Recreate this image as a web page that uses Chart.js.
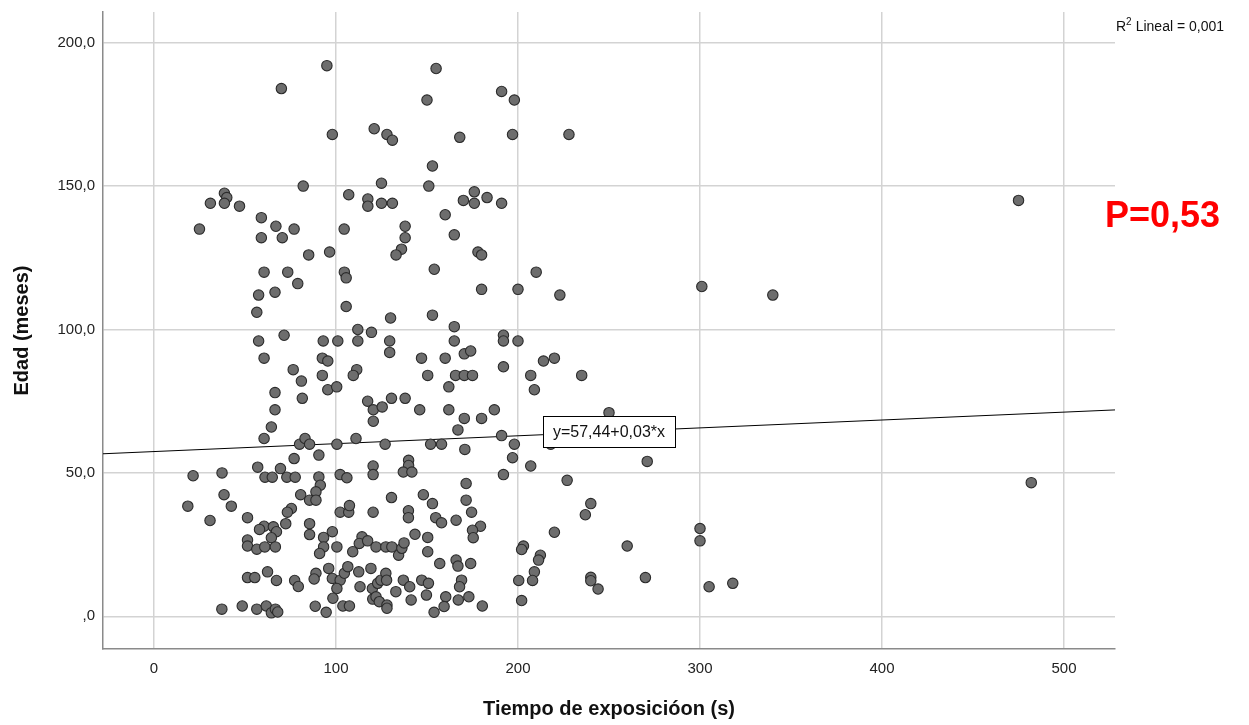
<!DOCTYPE html>
<html>
<head>
<meta charset="utf-8">
<script src="https://cdn.jsdelivr.net/npm/chart.js@4.4.1/dist/chart.umd.min.js"></script>
<style>
  html, body { margin: 0; padding: 0; background: #fff; }
</style>
</head>
<body>
<canvas id="scatterChart" width="1249" height="725"></canvas>
<script>
// --- données ---
const timeSec = [
  70, 95, 155, 191, 198, 150, 98, 121, 128, 131,
  168, 197, 228, 153, 125, 151, 107, 117.5, 117.5, 125,
  131, 170, 160, 104.5, 138, 138, 165, 82, 38.7, 40,
  38.7, 31, 47, 59, 67, 77, 25, 59, 70.5, 176,
  176, 183, 191, 475, 85, 60.5, 73.5, 79, 57.5, 66.5,
  56.5, 71.5, 57.5, 60.5, 76.5, 81, 66.5, 81.5, 66.5, 64.5,
  96.5, 136, 133, 104.6, 105.6, 154, 105.6, 130, 153, 112,
  119.5, 165, 93, 101, 112, 129.5, 165, 129.5, 92.5, 95.5,
  147, 160, 170.5, 174, 92.5, 111.4, 109.5, 150.4, 165.7, 170.5,
  175, 95.5, 100.4, 162, 117.4, 120.5, 125.4, 130.5, 138, 146,
  162, 170.5, 120.5, 167, 178, 180, 210, 180, 200, 223,
  192, 192, 200, 214, 220, 192, 207, 235, 209, 187,
  180, 250, 301, 340, 191, 198, 218, 197, 207, 192,
  227, 271, 482, 60.5, 80, 83, 85.5, 77, 21.5, 37.4,
  57, 69.5, 61, 65, 73, 77.6, 38.5, 80.6, 85.5, 111,
  100.5, 127, 152, 158, 90.6, 170.8, 139.9, 139.9, 137, 141.7,
  120.4, 120.4, 102.3, 106, 90.6, 91.4, 89, 89, 130.5, 148,
  153, 171.5, 171.5, 240, 18.6, 42.5, 75.5, 73.3, 30.8, 51.4,
  72.4, 85.5, 60.5, 65.6, 58, 67.3, 64.5, 51.4, 51.4, 56.5,
  60.9, 66.7, 85.5, 174.5, 102.3, 107, 107.4, 120.4, 139.8, 139.8,
  154.8, 158, 166, 98, 93.2, 93.2, 91, 100.5, 109.2, 114.3,
  112.8, 117.4, 122, 127.4, 130.7, 134.4, 136.2, 137.4, 143.4, 150.4,
  150.4, 237, 179.4, 175, 175.4, 220, 203, 202, 212.3, 260,
  300, 300, 211.3, 157, 166, 167, 174, 89, 88, 96,
  98, 102.3, 104.6, 106.5, 100.5, 112.5, 119.2, 113.2, 120, 122.9,
  124.7, 127.4, 127.8, 120.2, 122, 123.8, 128, 128, 132.9, 137,
  140.5, 141.3, 147.1, 150.8, 149.7, 160.3, 159.4, 153.9, 169, 167.9,
  167.2, 173, 88.6, 94.6, 103.8, 107.4, 51.4, 55.4, 62.4, 67.3,
  77.3, 79.3, 37.3, 48.5, 56.5, 61.7, 64.5, 66.7, 68, 98.3,
  209, 200.4, 208, 240, 240, 244, 180.4, 202, 270, 305,
  318
];

const ageMonths = [
  184, 192, 191, 183, 180, 180, 168, 170, 168, 166,
  167, 168, 168, 157, 151, 150, 147, 145.5, 143, 144,
  144, 145, 140, 135, 136, 132, 133, 150, 147.5, 146,
  144, 144, 143, 139, 136, 135, 135, 132, 132, 148,
  144, 146, 144, 145, 126, 120, 120, 116, 112, 113,
  106, 98, 96, 90, 86, 82, 78, 76, 72, 66,
  127, 128, 126, 120, 118, 121, 108, 104, 105, 100,
  99, 101, 96, 96, 96, 96, 96, 92, 90, 89,
  90, 90, 91.5, 92.5, 84, 86, 84, 84, 84, 84,
  84, 79, 80, 80, 75, 72, 73, 76, 76, 72,
  72, 69, 68, 65, 127, 126, 120, 114, 114, 112,
  98, 96, 96, 89, 90, 87, 84, 84, 79, 72,
  69, 71, 115, 112, 63, 60, 60, 55.3, 52.4, 49.4,
  47.4, 54, 46.6, 62, 60, 62, 60, 55, 49, 50,
  52, 51.5, 48.5, 48.5, 48.5, 48.5, 42.4, 42.4, 40.5, 62,
  60, 60, 60, 60, 56.2, 58.2, 54.4, 52.6, 50.3, 50.3,
  52.4, 49.4, 49.4, 48.3, 48.6, 45.7, 43.4, 40.5, 41.4, 42.4,
  39.3, 46.3, 40.5, 39.3, 38.4, 38.4, 37.6, 36.3, 33.4, 34.4,
  32.3, 32.3, 31.4, 31.2, 30.3, 29.5, 27.4, 26.6, 24.5, 23.4,
  24.2, 24.2, 28.5, 36.3, 36.3, 36.3, 38.6, 36.3, 36.8, 34.4,
  34.4, 32.6, 33.5, 29.5, 27.5, 24.2, 21.9, 24.2, 22.5, 27.7,
  25.4, 26.3, 24.2, 24.2, 24.2, 21.3, 23.7, 25.6, 28.6, 27.5,
  22.5, 35.4, 31.4, 30, 27.4, 29.3, 24.5, 23.3, 21.3, 24.5,
  30.6, 26.3, 19.6, 18.4, 19.6, 17.5, 18.4, 15, 13, 16.7,
  13.2, 12.6, 15, 17.3, 9.7, 15.5, 16.7, 10.3, 9.7, 11.5,
  12.6, 15, 12.6, 6, 6.8, 5.1, 3.9, 2.8, 8.6, 12.6,
  10.3, 5.7, 12.6, 11.5, 7.4, 6.8, 3.4, 1.4, 12.6, 10.3,
  5.7, 6.8, 3.5, 1.4, 3.6, 3.6, 13.5, 13.5, 15.5, 12.5,
  12.5, 10.4, 2.5, 3.6, 2.5, 3.6, 1.2, 2.5, 1.5, 6.3,
  15.5, 12.5, 12.5, 13.6, 12.4, 9.5, 3.6, 5.5, 13.5, 10.3,
  11.5
];

const xTicks = [0, 100, 200, 300, 400, 500];
const yTicks = [0, 50, 100, 150, 200];
const xRange = [-28, 528];
const yRange = [-11.4, 210.7];

// droite d'ajustement (SPSS) et annotations
const fitIntercept = 57.44;
const fitSlope = 0.0275;
const fitLabel = 'y=57,44+0,03*x';
const fitLabelAt = 250;
const r2Text = 'Lineal = 0,001';
const pText = 'P=0,53';

const FONT = '"Liberation Sans", Arial, sans-serif';

// --- construction des séries ---
const points = timeSec.map((t, i) => ({ x: t, y: ageMonths[i] }));
const fitLine = xRange.map(x => ({ x: x, y: fitIntercept + fitSlope * x }));

// Annotations dessinées par-dessus
const annotations = {
  id: 'annotations',
  afterDatasetsDraw(chart) {
    const ctx = chart.ctx;
    const xs = chart.scales.x, ys = chart.scales.y;
    const area = chart.chartArea;

    // boîte de l'équation posée sur la droite
    const px = xs.getPixelForValue(fitLabelAt);
    const py = ys.getPixelForValue(fitIntercept + fitSlope * fitLabelAt);
    ctx.save();
    ctx.font = '16px ' + FONT;
    const w = ctx.measureText(fitLabel).width + 20;
    const h = 31;
    ctx.fillStyle = '#fff';
    ctx.fillRect(px - w / 2, py - h / 2, w, h);
    ctx.strokeStyle = '#000';
    ctx.lineWidth = 1;
    ctx.strokeRect(Math.round(px - w / 2) + 0.5, Math.round(py - h / 2) + 0.5, Math.round(w), h);
    ctx.fillStyle = '#111';
    ctx.textAlign = 'center';
    ctx.textBaseline = 'middle';
    ctx.fillText(fitLabel, px, py + 1);

    // R² en haut à droite
    let x0 = area.right + 1;
    ctx.textAlign = 'left';
    ctx.textBaseline = 'alphabetic';
    ctx.font = '14px ' + FONT;
    ctx.fillText('R', x0, 31);
    x0 += ctx.measureText('R').width;
    ctx.font = '10px ' + FONT;
    ctx.fillText('2', x0, 25);
    x0 += ctx.measureText('2').width + 4;
    ctx.font = '14px ' + FONT;
    ctx.fillText(r2Text, x0, 31);

    // valeur p
    ctx.font = 'bold 36px ' + FONT;
    ctx.fillStyle = '#ff0000';
    ctx.fillText(pText, 1105, 227);
    ctx.restore();
  }
};

const ctx = document.getElementById('scatterChart').getContext('2d');
new Chart(ctx, {
  type: 'scatter',
  data: {
    datasets: [
      {
        label: 'Edad',
        data: points,
        pointRadius: 5.2,
        pointHoverRadius: 5.2,
        backgroundColor: '#6d6d6d',
        borderColor: '#2b2b2b',
        borderWidth: 1.1
      },
      {
        type: 'line',
        label: 'Ajuste',
        data: fitLine,
        borderColor: '#000',
        borderWidth: 1,
        pointRadius: 0,
        fill: false,
        tension: 0
      }
    ]
  },
  options: {
    responsive: false,
    animation: false,
    events: [],
    layout: { padding: { left: 0, right: 134, top: 12, bottom: 0 } },
    plugins: {
      legend: { display: false },
      tooltip: { enabled: false }
    },
    scales: {
      x: {
        type: 'linear',
        min: xRange[0],
        max: xRange[1],
        afterBuildTicks: s => { s.ticks = xTicks.map(v => ({ value: v })); },
        afterFit: s => { s.height = 76; s.paddingLeft = 0; s.paddingRight = 0; },
        grid: { color: '#d3d3d3', lineWidth: 1.5, drawTicks: false },
        border: { display: true, color: '#8a8a8a', width: 1.5 },
        ticks: {
          padding: 11,
          color: '#222',
          font: { family: FONT, size: 15 },
          callback: v => String(v)
        },
        title: {
          display: true,
          text: 'Tiempo de exposicióon (s)',
          color: '#111',
          font: { family: FONT, size: 20, weight: 'bold' },
          padding: { top: 0, bottom: 4 }
        }
      },
      y: {
        type: 'linear',
        min: yRange[0],
        max: yRange[1],
        afterBuildTicks: s => { s.ticks = yTicks.map(v => ({ value: v })); },
        afterFit: s => { s.width = 103; s.paddingTop = 0; s.paddingBottom = 0; },
        grid: { color: '#d3d3d3', lineWidth: 1.5, drawTicks: false },
        border: { display: true, color: '#8a8a8a', width: 1.5 },
        ticks: {
          padding: 8,
          color: '#222',
          font: { family: FONT, size: 15 },
          callback: v => v === 0 ? ',0' : v.toFixed(1).replace('.', ',')
        },
        title: {
          display: true,
          text: 'Edad (meses)',
          color: '#111',
          font: { family: FONT, size: 20, weight: 'bold' },
          padding: { top: 10, bottom: 0 }
        }
      }
    }
  },
  plugins: [annotations]
});
</script>
</body>
</html>
